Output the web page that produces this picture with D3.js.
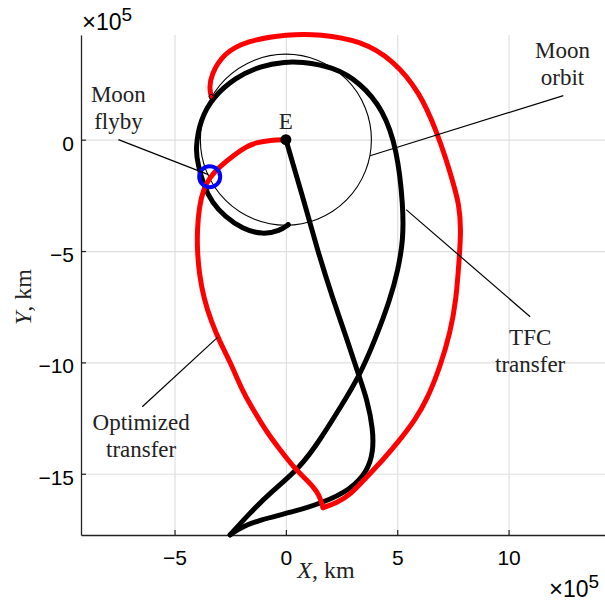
<!DOCTYPE html>
<html>
<head>
<meta charset="utf-8">
<script src="https://cdn.jsdelivr.net/npm/d3@7"></script>
<style>
  body { margin: 0; background: #fff; }
  .tick text { font-family: "Liberation Sans", Arial, sans-serif; font-size: 21px; fill: #000; }
  .note { font-family: "Liberation Serif", "Times New Roman", serif; font-size: 23px; fill: #222; }
</style>
</head>
<body>
<div id="dataviz"></div>
<script>
// units: 10^5 km
var xTicks = [-5, 0, 5, 10];
var yTicks = [0, -5, -10, -15];
var xLimits = [-9.2, 14.33];
var yLimits = [-17.75, 4.70];
var moonRadius = 3.84;

// TFC transfer (black), split at the cusp
var tfcLeg1 = [
  [0, 0], [0.73, -2.47], [1.41, -4.94], [2.12, -7.18], [2.75, -8.98], [3.29, -10.64],
  [3.65, -11.67], [3.92, -13.02], [3.92, -14.05], [3.65, -14.91], [2.89, -15.72],
  [1.67, -16.30], [0.19, -16.75], [-1.15, -17.06], [-2.05, -17.42], [-2.50, -17.74]
];
var tfcLeg2 = [
  [-2.50, -17.74], [-1.69, -16.84], [-0.70, -15.85], [0.64, -14.73], [1.54, -13.47],
  [2.44, -12.03], [3.29, -10.64], [4.01, -8.98], [4.68, -7.18], [5.04, -5.84],
  [5.27, -4.49], [5.27, -3.01], [5.00, -0.45], [4.37, 1.35], [3.34, 2.56],
  [2.12, 3.28], [0.64, 3.50], [0.01, 3.50], [-1.15, 3.32], [-2.28, 2.78],
  [-3.26, 1.93], [-3.85, 0.90], [-4.07, -0.45], [-3.94, -1.12], [-3.71, -2.02],
  [-3.31, -2.83], [-2.73, -3.46], [-1.96, -4.00], [-1.06, -4.27], [-0.26, -4.09],
  [0.10, -3.82]
];

// Optimized transfer (red), split at the cusp
var optLeg1 = [
  [0, 0], [-0.70, -0.02], [-1.30, -0.12], [-1.78, -0.31], [-2.37, -0.72], [-2.95, -1.19],
  [-3.44, -1.71], [-3.71, -2.25], [-3.89, -3.01], [-3.98, -4.04], [-3.98, -4.94],
  [-3.89, -6.06], [-3.67, -7.18], [-3.35, -8.17], [-2.95, -9.12], [-2.50, -9.97],
  [-1.92, -11.36], [-1.38, -12.26], [-0.84, -13.16], [-0.26, -13.92], [0.33, -14.68],
  [0.87, -15.22], [1.23, -15.58], [1.50, -15.98], [1.58, -16.25], [1.67, -16.52]
];
var optLeg2 = [
  [1.67, -16.52], [2.30, -16.30], [2.89, -15.94], [3.56, -15.22], [4.37, -14.37],
  [5.13, -13.47], [5.81, -12.57], [6.34, -11.67], [6.93, -10.19], [7.38, -8.67],
  [7.65, -7.18], [7.78, -5.39], [7.87, -4.04], [7.78, -2.92], [7.51, -1.93],
  [7.20, -0.90], [6.79, 0.31], [6.03, 2.11], [4.82, 3.59], [3.34, 4.45],
  [1.54, 4.74], [0.06, 4.74], [-1.74, 4.45], [-2.82, 3.86], [-3.35, 2.92],
  [-3.44, 2.33], [-3.35, 1.93]
];

var flyby = [-3.42, -1.66];

// annotations: label lines, text anchor, line start -> line end
var notes = [
  {lines: ["Moon", "flyby"],         tx: -7.52, ty: 1.68,   from: [-7.52, 0],     to: [-3.48, -1.57]},
  {lines: ["Moon", "orbit"],         tx: 12.42, ty: 3.68,   from: [12.46, 1.98],  to: [3.78, -0.72]},
  {lines: ["TFC", "transfer"],       tx: 10.97, ty: -9.2,   from: [5.40, -3.14],  to: [10.97, -7.95]},
  {lines: ["Optimized", "transfer"], tx: -6.5,  ty: -13.02, from: [-3.08, -8.89], to: [-6.45, -11.99]}
];

var margin = {top: 35, left: 81},
  width = 605 - margin.left,
  height = 500;

var svg = d3.select("#dataviz")
  .append("svg")
    .attr("width", 605)
    .attr("height", 601)
  .append("g")
    .attr("transform", "translate(" + margin.left + "," + margin.top + ")");

var x = d3.scaleLinear().domain(xLimits).range([0, width]);
var y = d3.scaleLinear().domain(yLimits).range([height, 0]);

// grid
svg.append("g")
  .attr("transform", "translate(0," + height + ")")
  .call(d3.axisBottom(x).tickValues(xTicks).tickSize(-height).tickFormat(""))
  .call(g => g.select(".domain").remove())
  .selectAll("line").attr("stroke", "#e0e0e0").attr("stroke-width", 1.2);
svg.append("g")
  .call(d3.axisLeft(y).tickValues(yTicks).tickSize(-width).tickFormat(""))
  .call(g => g.select(".domain").remove())
  .selectAll("line").attr("stroke", "#e0e0e0").attr("stroke-width", 1.2);

// axes
var xAxis = svg.append("g")
  .attr("transform", "translate(0," + height + ")")
  .call(d3.axisBottom(x).tickValues(xTicks).tickSizeInner(-5).tickSizeOuter(0).tickPadding(15));
var yAxis = svg.append("g")
  .call(d3.axisLeft(y).tickValues(yTicks).tickSizeInner(-5).tickSizeOuter(0).tickPadding(7));
[xAxis, yAxis].forEach(function(a) {
  a.select(".domain").attr("stroke", "#222").attr("stroke-width", 1.3);
  a.selectAll(".tick line").attr("stroke", "#222").attr("stroke-width", 1.2);
});
yAxis.selectAll(".tick text").attr("dy", "0.5em");

// moon orbit
svg.append("circle")
  .attr("cx", x(0)).attr("cy", y(0))
  .attr("r", x(moonRadius) - x(0))
  .attr("fill", "none").attr("stroke", "#000").attr("stroke-width", 1.1);

var line = d3.line()
  .x(d => x(d[0]))
  .y(d => y(d[1]))
  .curve(d3.curveBasis);

function drawPath(pts, color) {
  svg.append("path")
    .datum(pts)
    .attr("d", line)
    .attr("fill", "none").attr("stroke", color).attr("stroke-width", 5)
    .attr("stroke-linejoin", "round").attr("stroke-linecap", "round");
}
drawPath(tfcLeg1, "#000");
drawPath(tfcLeg2, "#000");
drawPath(optLeg1, "#ff0000");
drawPath(optLeg2, "#ff0000");

// end markers
[tfcLeg2[tfcLeg2.length - 1], optLeg2[optLeg2.length - 1]].forEach(function(p) {
  svg.append("circle")
    .attr("cx", x(p[0])).attr("cy", y(p[1])).attr("r", 2.2)
    .attr("fill", "none").attr("stroke", "#000").attr("stroke-width", 1);
});

// Earth
svg.append("circle")
  .attr("cx", x(0)).attr("cy", y(0)).attr("r", 5.5).attr("fill", "#000");
svg.append("text")
  .attr("class", "note")
  .attr("x", x(0)).attr("y", y(0) - 11)
  .attr("text-anchor", "middle")
  .text("E");

// flyby marker
svg.append("circle")
  .attr("cx", x(flyby[0])).attr("cy", y(flyby[1])).attr("r", 10.5)
  .attr("fill", "none").attr("stroke", "#0000ff").attr("stroke-width", 4);

// annotations
notes.forEach(function(n) {
  svg.append("line")
    .attr("x1", x(n.from[0])).attr("y1", y(n.from[1]))
    .attr("x2", x(n.to[0])).attr("y2", y(n.to[1]))
    .attr("stroke", "#000").attr("stroke-width", 1.2);
  var t = svg.append("text")
    .attr("class", "note")
    .attr("text-anchor", "middle")
    .attr("x", x(n.tx)).attr("y", y(n.ty));
  n.lines.forEach(function(s, i) {
    t.append("tspan").attr("x", x(n.tx)).attr("dy", i ? 27 : 0).text(s);
  });
});

// axis labels
svg.append("text")
  .attr("class", "note")
  .style("font-size", "24px")
  .attr("x", 326 - margin.left).attr("y", 578 - margin.top)
  .attr("text-anchor", "middle")
  .html('<tspan font-style="italic">X</tspan>, km');
svg.append("text")
  .attr("class", "note")
  .style("font-size", "24px")
  .attr("transform", "translate(" + (31 - margin.left) + "," + (297 - margin.top) + ") rotate(-90)")
  .attr("text-anchor", "middle")
  .html('<tspan font-style="italic">Y</tspan>, km');

// exponent labels
function expLabel(px, py) {
  var t = svg.append("text")
    .attr("x", px - margin.left).attr("y", py - margin.top)
    .style("font-family", "'Liberation Sans', Arial, sans-serif")
    .style("font-size", "23px").attr("fill", "#000");
  t.append("tspan").style("font-size", "24px").text("\u00d7");
  t.append("tspan").text("10");
  t.append("tspan").attr("dy", -9).style("font-size", "19px").text("5");
}
expLabel(82, 30);
expLabel(549, 597);
</script>
</body>
</html>
